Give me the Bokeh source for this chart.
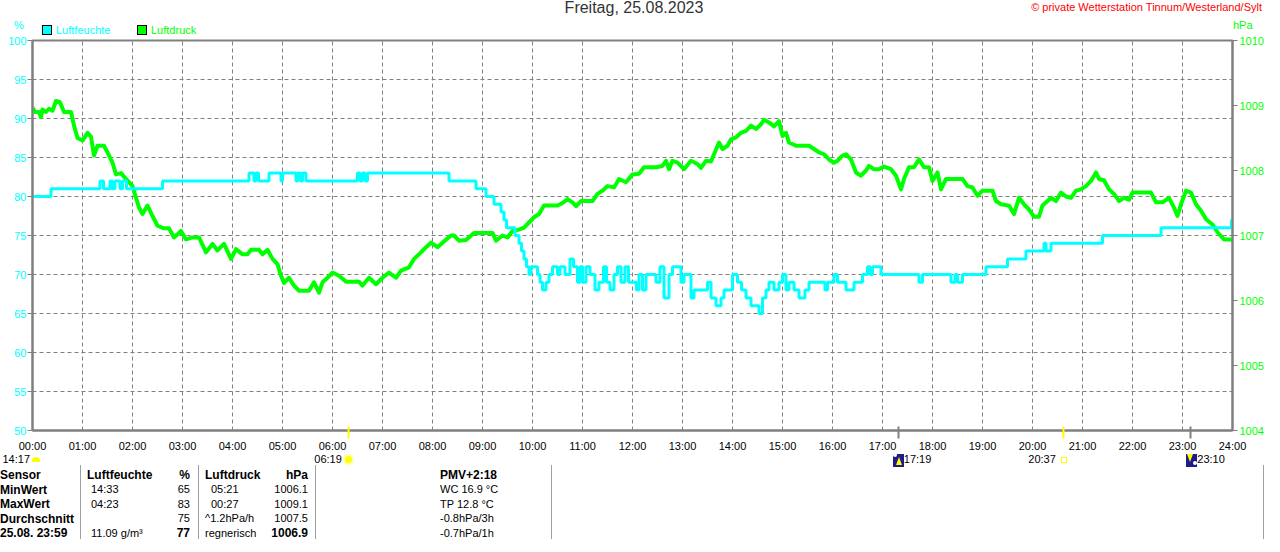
from bokeh.plotting import figure
from bokeh.models import Range1d, LinearAxis, FixedTicker, Div
from bokeh.layouts import column
from bokeh.embed import file_html
from bokeh.resources import INLINE

FONT = "Liberation Sans"
CYAN = "#00FFFF"
GREEN = "#00FF00"
GRAY = "#808080"
YELLOW = "#FFFF00"

# ---------------- data ----------------
title_text = "Freitag, 25.08.2023"
copyright_text = "\u00a9 private Wetterstation Tinnum/Westerland/Sylt"
series_names = ["Luftfeuchte", "Luftdruck"]
unit_left = "%"
unit_right = "hPa"

hour_ticks = list(range(25))
hour_labels = ["%02d:00" % h for h in hour_ticks]
hum_ticks = [50, 55, 60, 65, 70, 75, 80, 85, 90, 95, 100]
pres_ticks = [1004, 1005, 1006, 1007, 1008, 1009, 1010]

# relative humidity (%), step series: time in hours -> value
hum_t = [0.0, 0.37, 1.35, 1.42, 1.55, 1.6, 1.65, 1.75, 1.8, 1.88,
         2.6, 4.33, 4.43, 4.47, 4.52, 4.73, 4.97, 5.0, 5.27, 5.31,
         5.36, 5.4, 5.47, 6.5, 6.55, 6.6, 6.65, 6.7, 8.33, 8.87,
         9.07, 9.23, 9.37, 9.43, 9.48, 9.65, 9.73, 9.78, 9.83, 9.88,
         9.93, 9.97, 10.1, 10.15, 10.2, 10.27, 10.33, 10.4, 10.5, 10.55,
         10.65, 10.75, 10.82, 10.9, 10.95, 11.0, 11.07, 11.15, 11.25, 11.33,
         11.42, 11.48, 11.55, 11.63, 11.7, 11.77, 11.85, 11.92, 12.0, 12.08,
         12.13, 12.2, 12.27, 12.47, 12.55, 12.63, 12.73, 12.8, 12.97, 13.03,
         13.17, 13.23, 13.5, 13.57, 13.67, 13.77, 13.83, 14.0, 14.1, 14.18,
         14.27, 14.37, 14.53, 14.6, 14.67, 14.73, 14.83, 14.93, 15.0, 15.07,
         15.13, 15.23, 15.33, 15.45, 15.53, 15.85, 15.9, 16.03, 16.1, 16.27,
         16.43, 16.6, 16.7, 16.75, 16.8, 16.97, 17.73, 17.8, 18.37, 18.45,
         18.5, 18.6, 19.07, 19.5, 19.87, 20.23, 20.27, 20.37, 21.4, 22.57,
         23.98, 24.0]
hum_v = [80, 81, 82, 81, 82, 81, 82, 81, 82, 81,
         82, 83, 82, 83, 82, 83, 82, 83, 82, 83,
         82, 83, 82, 83, 82, 83, 82, 83, 82, 81,
         80, 79, 78, 77, 76, 75, 74, 73, 72, 71,
         70, 71, 70, 69, 68, 69, 70, 71, 70, 71,
         70, 72, 71, 69, 71, 69, 71, 70, 68, 69,
         71, 69, 68, 70, 71, 69, 71, 69, 69, 68,
         70, 68, 70, 69, 71, 67, 70, 71, 69, 70,
         67, 68, 69, 67, 66, 67, 68, 70, 69, 68,
         67, 66, 65, 67, 68, 69, 68, 69, 70, 68,
         69, 68, 67, 68, 69, 68, 69, 70, 69, 68,
         69, 70, 71, 70, 71, 70, 69, 70, 69, 70,
         69, 70, 71, 72, 73, 74, 73, 74, 75, 76,
         77, 77]

# air pressure (hPa)
pres_t = [0.0, 0.05, 0.13, 0.17, 0.2, 0.27, 0.33, 0.4, 0.47, 0.55,
          0.63, 0.77, 0.83, 0.9, 1.0, 1.1, 1.17, 1.23, 1.3, 1.43,
          1.5, 1.6, 1.67, 1.77, 1.87, 2.0, 2.13, 2.2, 2.3, 2.4,
          2.5, 2.63, 2.73, 2.83, 2.97, 3.07, 3.2, 3.33, 3.47, 3.6,
          3.7, 3.83, 3.97, 4.07, 4.2, 4.3, 4.37, 4.53, 4.6, 4.7,
          4.8, 4.9, 4.97, 5.03, 5.13, 5.23, 5.33, 5.53, 5.63, 5.73,
          5.8, 5.9, 6.0, 6.13, 6.27, 6.53, 6.6, 6.73, 6.87, 7.0,
          7.13, 7.27, 7.37, 7.53, 7.63, 7.77, 7.87, 7.97, 8.1, 8.2,
          8.37, 8.43, 8.53, 8.67, 8.83, 9.2, 9.27, 9.4, 9.5, 9.6,
          9.73, 9.83, 9.93, 10.03, 10.13, 10.23, 10.5, 10.6, 10.7, 10.8,
          10.87, 10.97, 11.2, 11.3, 11.4, 11.5, 11.63, 11.73, 11.87, 12.0,
          12.13, 12.23, 12.47, 12.6, 12.67, 12.73, 12.8, 12.9, 13.03, 13.17,
          13.3, 13.37, 13.47, 13.57, 13.63, 13.73, 13.8, 13.9, 13.97, 14.07,
          14.17, 14.27, 14.37, 14.47, 14.57, 14.63, 14.73, 14.83, 14.93, 15.0,
          15.07, 15.13, 15.27, 15.53, 15.63, 15.73, 15.83, 15.93, 16.03, 16.1,
          16.2, 16.27, 16.37, 16.47, 16.57, 16.67, 16.73, 16.83, 16.93, 17.03,
          17.17, 17.27, 17.37, 17.43, 17.53, 17.63, 17.73, 17.83, 17.93, 18.0,
          18.1, 18.17, 18.27, 18.6, 18.7, 18.8, 18.9, 19.0, 19.2, 19.27,
          19.37, 19.53, 19.63, 19.73, 19.83, 19.93, 20.03, 20.13, 20.2, 20.3,
          20.37, 20.47, 20.57, 20.67, 20.77, 20.87, 20.97, 21.07, 21.17, 21.27,
          21.33, 21.43, 21.53, 21.63, 21.73, 21.83, 21.93, 22.0, 22.27, 22.37,
          22.47, 22.6, 22.73, 22.83, 22.9, 22.97, 23.07, 23.17, 23.27, 23.37,
          23.47, 23.6, 23.7, 23.83, 24.0]
pres_v = [1008.97, 1008.90, 1008.90, 1008.82, 1008.94, 1008.90, 1008.95, 1008.92, 1009.07, 1009.05,
          1008.90, 1008.90, 1008.69, 1008.50, 1008.46, 1008.58, 1008.52, 1008.23, 1008.38, 1008.38,
          1008.28, 1008.12, 1007.94, 1007.96, 1007.87, 1007.76, 1007.43, 1007.33, 1007.46, 1007.30,
          1007.15, 1007.11, 1007.11, 1006.97, 1007.07, 1006.94, 1006.97, 1006.97, 1006.74, 1006.87,
          1006.77, 1006.87, 1006.64, 1006.79, 1006.71, 1006.71, 1006.78, 1006.78, 1006.71, 1006.78,
          1006.64, 1006.56, 1006.38, 1006.27, 1006.35, 1006.23, 1006.15, 1006.15, 1006.28, 1006.12,
          1006.28, 1006.35, 1006.43, 1006.38, 1006.29, 1006.29, 1006.23, 1006.35, 1006.25, 1006.35,
          1006.43, 1006.35, 1006.46, 1006.51, 1006.64, 1006.74, 1006.82, 1006.89, 1006.82, 1006.89,
          1007.00, 1007.00, 1006.92, 1006.93, 1007.04, 1007.04, 1006.92, 1007.00, 1006.97, 1007.07,
          1007.09, 1007.12, 1007.20, 1007.28, 1007.33, 1007.46, 1007.46, 1007.50, 1007.56, 1007.51,
          1007.45, 1007.53, 1007.53, 1007.64, 1007.69, 1007.76, 1007.74, 1007.87, 1007.82, 1007.94,
          1007.95, 1008.05, 1008.05, 1008.07, 1008.15, 1008.02, 1008.15, 1008.12, 1008.02, 1008.15,
          1008.10, 1008.04, 1008.15, 1008.14, 1008.25, 1008.43, 1008.33, 1008.38, 1008.48, 1008.51,
          1008.58, 1008.61, 1008.69, 1008.64, 1008.71, 1008.78, 1008.74, 1008.68, 1008.76, 1008.53,
          1008.58, 1008.43, 1008.38, 1008.38, 1008.33, 1008.28, 1008.25, 1008.17, 1008.12, 1008.15,
          1008.23, 1008.25, 1008.17, 1007.97, 1007.92, 1008.00, 1008.07, 1008.02, 1008.02, 1008.06,
          1008.02, 1007.92, 1007.71, 1007.87, 1008.05, 1008.05, 1008.17, 1008.05, 1008.05, 1007.84,
          1007.97, 1007.71, 1007.87, 1007.87, 1007.76, 1007.74, 1007.61, 1007.69, 1007.69, 1007.53,
          1007.48, 1007.46, 1007.33, 1007.58, 1007.48, 1007.40, 1007.29, 1007.29, 1007.46, 1007.53,
          1007.58, 1007.53, 1007.66, 1007.60, 1007.58, 1007.69, 1007.71, 1007.76, 1007.84, 1007.97,
          1007.87, 1007.85, 1007.71, 1007.64, 1007.53, 1007.58, 1007.55, 1007.66, 1007.66, 1007.66,
          1007.51, 1007.51, 1007.58, 1007.43, 1007.30, 1007.48, 1007.69, 1007.66, 1007.48, 1007.38,
          1007.25, 1007.17, 1007.05, 1006.94, 1006.94]

# sun / moon events (moonset of previous day, sunrise, moonrise, sunset, moonset)
event_labels = ["14:17", "06:19", "17:19", "20:37", "23:10"]

# summary table
table_header = ["Sensor", "Luftfeuchte", "%", "Luftdruck", "hPa", "PMV+2:18"]
row_names = ["MinWert", "MaxWert", "Durchschnitt", "25.08. 23:59"]
hum_time = ["14:33", "04:23", "", "11.09 g/m\u00b3"]
hum_vals = ["65", "83", "75", "77"]
pres_time = ["05:21", "00:27", "^1.2hPa/h", "regnerisch"]
pres_vals = ["1006.1", "1009.1", "1007.5", "1006.9"]
extra_info = ["WC 16.9 \u00b0C", "TP 12.8 \u00b0C", "-0.8hPa/3h", "-0.7hPa/1h"]

assert len(hum_t) == len(hum_v)
assert len(pres_t) == len(pres_v)


def hm(s):
    h, m = s.split(":")
    return int(h) + int(m) / 60.0


sun_hours = [hm(event_labels[1]), hm(event_labels[3])]
moon_hours = [hm(event_labels[2]), hm(event_labels[4])]

W = 1264
ORIGIN_X = 8  # page x of the layout's left edge


def xpix(hours):
    # page x of an hour on the time axis (frame spans 40..1240)
    return 40 + hours * 50.0


# ---------------- HTML helpers for the strips above and below the chart ----------------
def span(x, y, s, base_y, color="black", size=11, bold=False, align="left"):
    lx = x - ORIGIN_X
    ly = y - base_y
    h = size + 2
    st = ("position:absolute;top:%.1fpx;height:%dpx;line-height:%dpx;font-size:%spx;"
          "color:%s;white-space:nowrap;font-family:'%s';" % (ly - h / 2.0, h, h, size, color, FONT))
    if bold:
        st += "font-weight:bold;"
    if align == "left":
        st += "left:%.1fpx;" % lx
    elif align == "right":
        st += "right:%.1fpx;" % (W - lx)
    else:
        st += "left:%.1fpx;transform:translateX(-50%%);" % lx
    return '<span style="%s">%s</span>' % (st, s)


def box(x0, y0, w, h, base_y, style):
    return ('<span style="position:absolute;left:%.1fpx;top:%.1fpx;width:%.1fpx;height:%.1fpx;%s"></span>'
            % (x0 - ORIGIN_X, y0 - base_y, w, h, style))


def wrap(parts, height):
    return ('<div style="position:relative;width:%dpx;height:%dpx;overflow:hidden;'
            'background:white;font-family:\'%s\';">%s</div>' % (W, height, FONT, "".join(parts)))


# ---------------- top strip ----------------
TOP0 = 8
TOP_H = 35
tp = []
tp.append(span(642, 16, title_text, TOP0, color="#333333", size=16, align="center"))
tp.append(span(1270, 15, copyright_text, TOP0, color="#FF0000", size=11, align="right"))
tp.append(span(27, 33, unit_left, TOP0, color=CYAN, size=11, align="center"))
tp.append(span(1241, 33, unit_right, TOP0, color=GREEN, size=11, align="left"))
tp.append(box(50, 33, 10, 10, TOP0, "background:%s;border:1px solid black;box-sizing:border-box;" % CYAN))
tp.append(span(64, 38, series_names[0], TOP0, color=CYAN, size=11))
tp.append(box(145, 33, 10, 10, TOP0, "background:%s;border:1px solid black;box-sizing:border-box;" % GREEN))
tp.append(span(159, 38, series_names[1], TOP0, color=GREEN, size=11))
top = Div(text=wrap(tp, TOP_H), width=W, height=TOP_H, margin=0)

# ---------------- main chart ----------------
p = figure(frame_width=1200, frame_height=390, x_range=Range1d(0, 24), y_range=Range1d(50, 100),
           toolbar_location=None, output_backend="svg",
           min_border_left=32, min_border_right=32, min_border_top=5, min_border_bottom=0)
p.extra_y_ranges = {"p": Range1d(1004, 1010)}
p.background_fill_color = "white"
p.border_fill_color = "white"
p.outline_line_color = GRAY
p.outline_line_width = 2

# axis 1 (next to the frame): sun / moon event marks only, no labels
ev_axis = p.xaxis[0]
ev_axis.ticker = FixedTicker(ticks=moon_hours, minor_ticks=sun_hours)
ev_axis.axis_line_color = GRAY
ev_axis.axis_line_width = 2
ev_axis.major_tick_line_color = GRAY
ev_axis.major_tick_line_width = 2
ev_axis.major_tick_in = 4
ev_axis.major_tick_out = 8
ev_axis.minor_tick_line_color = YELLOW
ev_axis.minor_tick_line_width = 2
ev_axis.minor_tick_in = 4
ev_axis.minor_tick_out = 8
ev_axis.major_label_text_color = None
ev_axis.major_label_text_font_size = "0px"
ev_axis.major_label_standoff = 0

# axis 2: hour labels
hour_axis = LinearAxis(ticker=FixedTicker(ticks=hour_ticks))
hour_axis.major_label_overrides = {h: lab for h, lab in zip(hour_ticks, hour_labels)}
hour_axis.axis_line_color = None
hour_axis.major_tick_line_color = None
hour_axis.minor_tick_line_color = None
hour_axis.major_tick_in = 0
hour_axis.major_tick_out = 0
hour_axis.major_label_standoff = 1
hour_axis.major_label_text_font = FONT
hour_axis.major_label_text_font_size = "11px"
hour_axis.major_label_text_color = "black"
p.add_layout(hour_axis, "below")

left = p.yaxis[0]
left.ticker = FixedTicker(ticks=hum_ticks)
right = LinearAxis(y_range_name="p", ticker=FixedTicker(ticks=pres_ticks))
p.add_layout(right, "right")
for ax, col, so in ((left, CYAN, 1), (right, GREEN, 2)):
    ax.axis_line_color = GRAY
    ax.axis_line_width = 2
    ax.major_tick_line_color = GRAY
    ax.minor_tick_line_color = None
    ax.major_tick_in = 0
    ax.major_tick_out = 5
    ax.major_label_standoff = so
    ax.major_label_text_font = FONT
    ax.major_label_text_font_size = "11px"
    ax.major_label_text_color = col

p.xgrid.axis = hour_axis
p.xgrid.ticker = FixedTicker(ticks=hour_ticks)
p.ygrid.ticker = FixedTicker(ticks=hum_ticks)
for g in (p.xgrid, p.ygrid):
    g.grid_line_color = GRAY
    g.grid_line_dash = "4 3"
    g.grid_line_width = 1

p.line(pres_t, pres_v, y_range_name="p", line_color=GREEN, line_width=4, line_join="round")
p.step(hum_t, hum_v, mode="after", line_color=CYAN, line_width=3)

# ---------------- bottom strip (events + table) ----------------
BOT0 = 459
BOT_H = 85
bp = []
ey = 464
# moonset (previous day) at the left edge
bp.append(span(38, ey, event_labels[0], BOT0, align="right"))
bp.append(box(40, 462, 8, 5, BOT0, "background:%s;border-radius:4px 4px 0 0;" % YELLOW))
# sunrise
x1 = xpix(hm(event_labels[1]))
bp.append(span(x1 - 6, ey, event_labels[1], BOT0, align="right"))
bp.append(box(x1 - 3, 461, 7, 7, BOT0,
              "background:%s;border-radius:50%%;box-shadow:0 0 0 2px #FFFFB0;" % YELLOW))
# moonrise
x2 = xpix(hm(event_labels[2]))
bp.append(box(x2 - 5, 458, 11, 14, BOT0, "background:#1C1C8C;"))
bp.append(box(x2 - 5, 458, 4, 4, BOT0, "background:white;border-radius:2px;"))
bp.append(box(x2 - 2, 462, 0, 0, BOT0,
              "border-left:3px solid transparent;border-right:3px solid transparent;"
              "border-bottom:8px solid %s;" % YELLOW))
bp.append(span(x2 + 6, ey, event_labels[2], BOT0, align="left"))
# sunset
x3 = xpix(hm(event_labels[3]))
bp.append(span(x3 - 7, ey, event_labels[3], BOT0, align="right"))
bp.append(box(x3 - 2, 462, 6, 6, BOT0, "border:1px solid %s;box-sizing:border-box;" % YELLOW))
# moonset
x4 = xpix(hm(event_labels[4]))
bp.append(box(x4 - 4, 458, 11, 14, BOT0, "background:#1C1C8C;"))
bp.append(box(x4 + 3, 466, 4, 4, BOT0, "background:white;border-radius:2px;"))
bp.append(box(x4 - 3, 459, 0, 0, BOT0,
              "border-left:3px solid transparent;border-right:3px solid transparent;"
              "border-top:8px solid %s;" % YELLOW))
bp.append(span(x4 + 7, ey, event_labels[4], BOT0, align="left"))

# table separators
for sx in [88, 206, 323, 559, 1271]:
    bp.append(box(sx, 470, 1, 80, BOT0, "background:#A0A0A0;"))

hy = 480
rows_y = [494.5, 509, 523.5, 538]
bp.append(span(8, hy, table_header[0], BOT0, size=12, bold=True))
bp.append(span(95, hy, table_header[1], BOT0, size=12, bold=True))
bp.append(span(198, hy, table_header[2], BOT0, size=12, bold=True, align="right"))
bp.append(span(213, hy, table_header[3], BOT0, size=12, bold=True))
bp.append(span(316, hy, table_header[4], BOT0, size=12, bold=True, align="right"))
bp.append(span(448, hy, table_header[5], BOT0, size=12, bold=True))
for i, ry in enumerate(rows_y):
    last = i == len(rows_y) - 1
    bp.append(span(8, ry, row_names[i], BOT0, size=12, bold=True))
    bp.append(span(99, ry, hum_time[i], BOT0))
    bp.append(span(198, ry, hum_vals[i], BOT0, size=12 if last else 11, bold=last, align="right"))
    bp.append(span(219 if i < 2 else 213, ry, pres_time[i], BOT0))
    bp.append(span(316, ry, pres_vals[i], BOT0, size=12 if last else 11, bold=last, align="right"))
    bp.append(span(448, ry, extra_info[i], BOT0))
bottom = Div(text=wrap(bp, BOT_H), width=W, height=BOT_H, margin=0)

layout = column(top, p, bottom, spacing=0)
open("out.html", "w").write(file_html(layout, INLINE))
